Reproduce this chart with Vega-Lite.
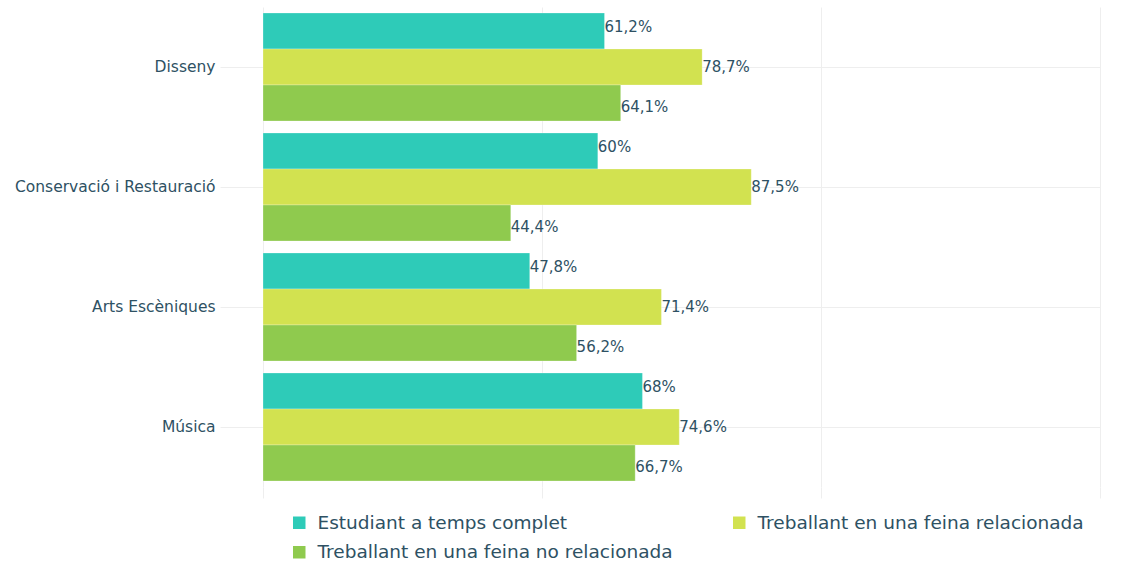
{
  "$schema": "https://vega.github.io/schema/vega-lite/v6.json",
  "autosize": {"type": "none"},
  "width": 837,
  "height": 480,
  "padding": {"left": 263, "top": 7, "right": 24, "bottom": 75},
  "config": {
    "font": "DejaVu Sans",
    "view": {"stroke": null},
    "axis": {"gridColor": "#eeeeee", "tickColor": "#eeeeee"}
  },
  "data": {
    "values": [
      {"cat": "Disseny", "series": "Estudiant a temps complet", "value": 61.2, "label": "61,2%"},
      {"cat": "Disseny", "series": "Treballant en una feina relacionada", "value": 78.7, "label": "78,7%"},
      {"cat": "Disseny", "series": "Treballant en una feina no relacionada", "value": 64.1, "label": "64,1%"},
      {"cat": "Conservació i Restauració", "series": "Estudiant a temps complet", "value": 60, "label": "60%"},
      {"cat": "Conservació i Restauració", "series": "Treballant en una feina relacionada", "value": 87.5, "label": "87,5%"},
      {"cat": "Conservació i Restauració", "series": "Treballant en una feina no relacionada", "value": 44.4, "label": "44,4%"},
      {"cat": "Arts Escèniques", "series": "Estudiant a temps complet", "value": 47.8, "label": "47,8%"},
      {"cat": "Arts Escèniques", "series": "Treballant en una feina relacionada", "value": 71.4, "label": "71,4%"},
      {"cat": "Arts Escèniques", "series": "Treballant en una feina no relacionada", "value": 56.2, "label": "56,2%"},
      {"cat": "Música", "series": "Estudiant a temps complet", "value": 68, "label": "68%"},
      {"cat": "Música", "series": "Treballant en una feina relacionada", "value": 74.6, "label": "74,6%"},
      {"cat": "Música", "series": "Treballant en una feina no relacionada", "value": 66.7, "label": "66,7%"}
    ]
  },
  "encoding": {
    "y": {
      "field": "cat", "type": "nominal",
      "sort": ["Disseny", "Conservació i Restauració", "Arts Escèniques", "Música"],
      "scale": {"paddingInner": 0.1, "paddingOuter": 0.05},
      "axis": {
        "title": null, "domain": false, "grid": true, "ticks": true, "tickSize": 43,
        "bandPosition": 0.5, "labelPadding": 5, "labelFontSize": 15.5, "labelColor": "#2e5163", "labelLimit": 300
      }
    },
    "x": {
      "field": "value", "type": "quantitative",
      "scale": {"domain": [0, 150]},
      "axis": {"title": null, "labels": false, "domain": false, "grid": true, "values": [0, 50, 100, 150], "ticks": true, "tickSize": 11}
    }
  },
  "layer": [
    {
      "mark": {"type": "bar", "stroke": "#ffffff", "strokeWidth": 0.5, "strokeOpacity": 0.5},
      "encoding": {
        "yOffset": {
          "field": "series", "type": "nominal",
          "sort": ["Estudiant a temps complet", "Treballant en una feina relacionada", "Treballant en una feina no relacionada"],
          "scale": {"paddingInner": 0, "paddingOuter": 0}
        },
        "color": {
          "field": "series", "type": "nominal",
          "scale": {
            "domain": ["Estudiant a temps complet", "Treballant en una feina relacionada", "Treballant en una feina no relacionada"],
            "range": ["#2ecbb8", "#d2e250", "#8fca4e"]
          },
          "legend": {
            "title": null, "orient": "none", "legendX": 27, "legendY": 506, "columns": 2,
            "direction": "horizontal",
            "symbolType": "square", "symbolSize": 196, "labelFontSize": 18.5, "labelColor": "#2e5163",
            "labelLimit": 500, "columnPadding": 56, "rowPadding": 9, "labelOffset": 9
          }
        }
      }
    },
    {
      "mark": {"type": "text", "align": "left", "baseline": "middle", "dx": 0, "fontSize": 15, "color": "#2e5163"},
      "encoding": {
        "yOffset": {
          "field": "series", "type": "nominal",
          "sort": ["Estudiant a temps complet", "Treballant en una feina relacionada", "Treballant en una feina no relacionada"],
          "scale": {"paddingInner": 0, "paddingOuter": 0, "range": [14, 94]}
        },
        "text": {"field": "label", "type": "nominal"}
      }
    }
  ],
  "resolve": {"scale": {"yOffset": "independent"}}
}
